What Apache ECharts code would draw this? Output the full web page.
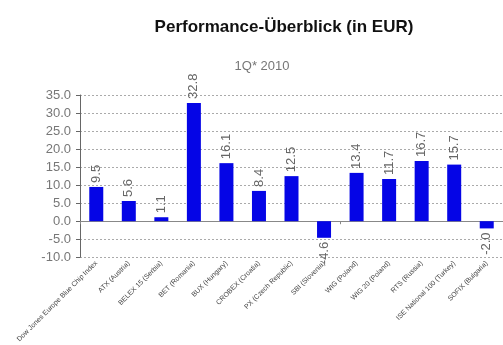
<!DOCTYPE html>
<html><head><meta charset="utf-8">
<script src="https://cdn.jsdelivr.net/npm/echarts@6/dist/echarts.min.js"></script>
<style>html,body{margin:0;padding:0;background:#fff}#c{width:503px;height:345px}</style>
</head><body><div id="c"></div>
<script>
const categories = ["Dow Jones Europe Blue Chip Index","ATX (Austria)","BELEX 15 (Serbia)","BET (Romania)","BUX (Hungary)","CROBEX (Croatia)","PX (Czech Republic)","SBI (Slovenia)","WIG (Poland)","WIG 20 (Poland)","RTS (Russia)","ISE National 100 (Turkey)","SOFIX (Bulgaria)"];
const values = [9.5, 5.6, 1.1, 32.8, 16.1, 8.4, 12.5, -4.6, 13.4, 11.7, 16.7, 15.7, -2.0];
const titleText = "Performance-Überblick (in EUR)";
const subtitleText = "1Q* 2010";
const yMin = -10, yMax = 35, yStep = 5;

const chart = echarts.init(document.getElementById('c'));
chart.setOption({
  animation: false,
  title: [
    {text: titleText, left: 279, top: 14, textAlign: 'center',
     textStyle: {fontFamily: 'Liberation Sans', fontWeight: 'bold', fontSize: 17, color: '#111'}},
    {text: subtitleText, left: 257, top: 55, textAlign: 'center',
     textStyle: {fontFamily: 'Liberation Sans', fontWeight: 'normal', fontSize: 13, color: '#777'}}
  ],
  grid: {left: 80, top: 95, width: 427, height: 163},
  xAxis: [
    {type: 'category', data: categories, position: 'bottom',
     axisLine: {show: false, onZero: false}, axisTick: {show: false},
     axisLabel: {rotate: 45, interval: 0, fontSize: 7, color: '#444', margin: 5, fontFamily: 'Liberation Sans'}},
    {type: 'category', data: categories, position: 'bottom',
     axisLine: {show: true, onZero: true, lineStyle: {color: '#888', width: 1}},
     axisTick: {show: true, length: 3, lineStyle: {color: '#888'}},
     axisLabel: {show: false}}
  ],
  yAxis: {type: 'value', min: yMin, max: yMax, interval: yStep,
    axisLine: {show: true, lineStyle: {color: '#666'}},
    axisTick: {show: true, length: 4, lineStyle: {color: '#666'}},
    axisLabel: {formatter: v => v.toFixed(1), fontSize: 13, color: '#777', margin: 9, fontFamily: 'Liberation Sans'},
    splitLine: {show: true, lineStyle: {type: [2, 2], color: '#aaa'}}
  },
  series: [{
    type: 'bar', xAxisIndex: 0, barWidth: 14,
    itemStyle: {color: '#0505e6'},
    data: values.map(v => ({
      value: v,
      label: v >= 0
        ? {show: true, position: 'top', rotate: 90, align: 'left', verticalAlign: 'middle', distance: 4}
        : {show: true, position: 'bottom', rotate: 90, align: 'right', verticalAlign: 'middle', distance: 4}
    })),
    label: {formatter: p => p.value.toFixed(1), fontSize: 13, color: '#666', fontFamily: 'Liberation Sans'}
  }]
});
</script></body></html>
